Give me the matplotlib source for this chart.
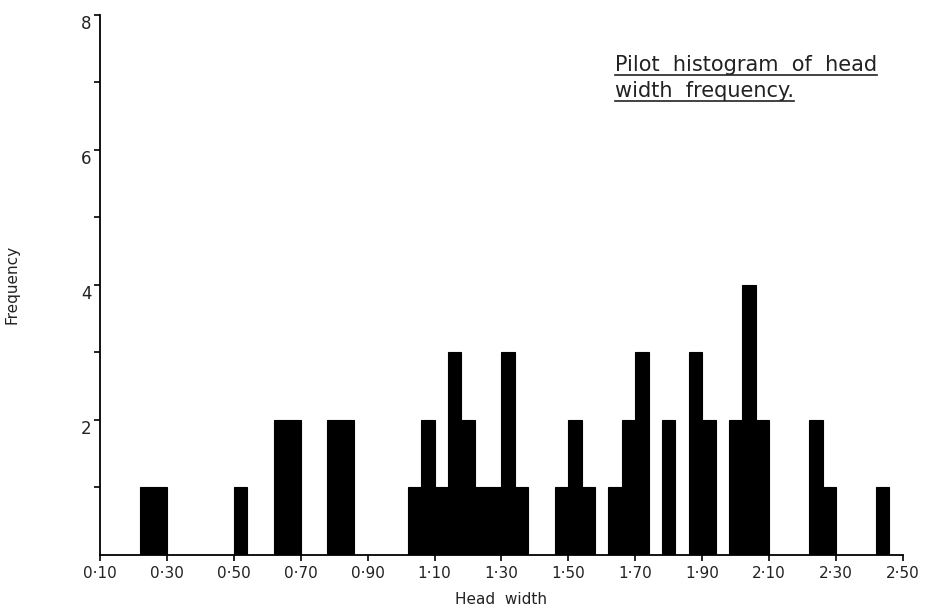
import matplotlib
matplotlib.use("Agg")
import matplotlib.pyplot as plt
import numpy as np

# bin left edges (head width) and frequency, bins of 0.04
bin_left = [0.22, 0.26, 0.50, 0.62, 0.66, 0.78, 0.82,
            1.02, 1.06, 1.10, 1.14, 1.18, 1.22, 1.26, 1.30, 1.34,
            1.46, 1.50, 1.54, 1.62, 1.66, 1.70, 1.78, 1.86, 1.90,
            1.98, 2.02, 2.06, 2.22, 2.26, 2.42]
counts = [1, 1, 1, 2, 2, 2, 2,
          1, 2, 1, 3, 2, 1, 1, 3, 1,
          1, 2, 1, 1, 2, 3, 2, 3, 2,
          2, 4, 2, 2, 1, 1]
bin_width = 0.04

x_ticks = [0.10, 0.30, 0.50, 0.70, 0.90, 1.10, 1.30, 1.50, 1.70, 1.90, 2.10, 2.30, 2.50]
x_labels = ["0·10", "0·30", "0·50", "0·70", "0·90", "1·10", "1·30",
            "1·50", "1·70", "1·90", "2·10", "2·30", "2·50"]
y_ticks = [2, 4, 6, 8]

plt.rcParams['font.family'] = ['DejaVu Sans']

fig = plt.figure(figsize=(9.26, 6.09), dpi=100)
ax = fig.add_axes([0.108, 0.0887, 0.867, 0.887])

ax.bar(bin_left, counts, width=bin_width, align='edge', color='black',
       edgecolor='black', linewidth=0.8)

ax.set_xlim(0.10, 2.50)
ax.set_ylim(0, 8)
for s in ['top', 'right']:
    ax.spines[s].set_visible(False)
ax.spines['left'].set_linewidth(1.3)
ax.spines['bottom'].set_linewidth(1.3)

ax.set_xticks(x_ticks)
ax.set_xticklabels(x_labels, fontsize=11, color='#222222')
ax.set_yticks(y_ticks)
ax.set_yticklabels([str(v) for v in y_ticks], fontsize=12, color='#222222', va='top')
ax.set_yticks([1, 3, 5, 7], minor=True)
ax.tick_params(axis='x', length=4, width=1.2, pad=4)
ax.tick_params(axis='y', which='both', length=4, width=1.2, pad=2)

ax.set_xlabel("Head  width", fontsize=11, color='#222222', labelpad=8)
ax.set_ylabel("Frequency", fontsize=11, color='#222222', labelpad=44)

# underlined note in the top right
lines = ["Pilot  histogram  of  head", "width  frequency."]
fig.canvas.draw()
renderer = fig.canvas.get_renderer()
for i, line in enumerate(lines):
    t = fig.text(0.664, 0.884 - i * 0.043, line, fontsize=15, color='#222222',
                 ha='left', va='baseline')
    bb = t.get_window_extent(renderer).transformed(fig.transFigure.inverted())
    fig.add_artist(plt.Line2D([bb.x0, bb.x1], [bb.y0 - 0.001, bb.y0 - 0.001],
                              transform=fig.transFigure, color='#222222', linewidth=1.2))

fig.savefig("out.png", dpi=100)
